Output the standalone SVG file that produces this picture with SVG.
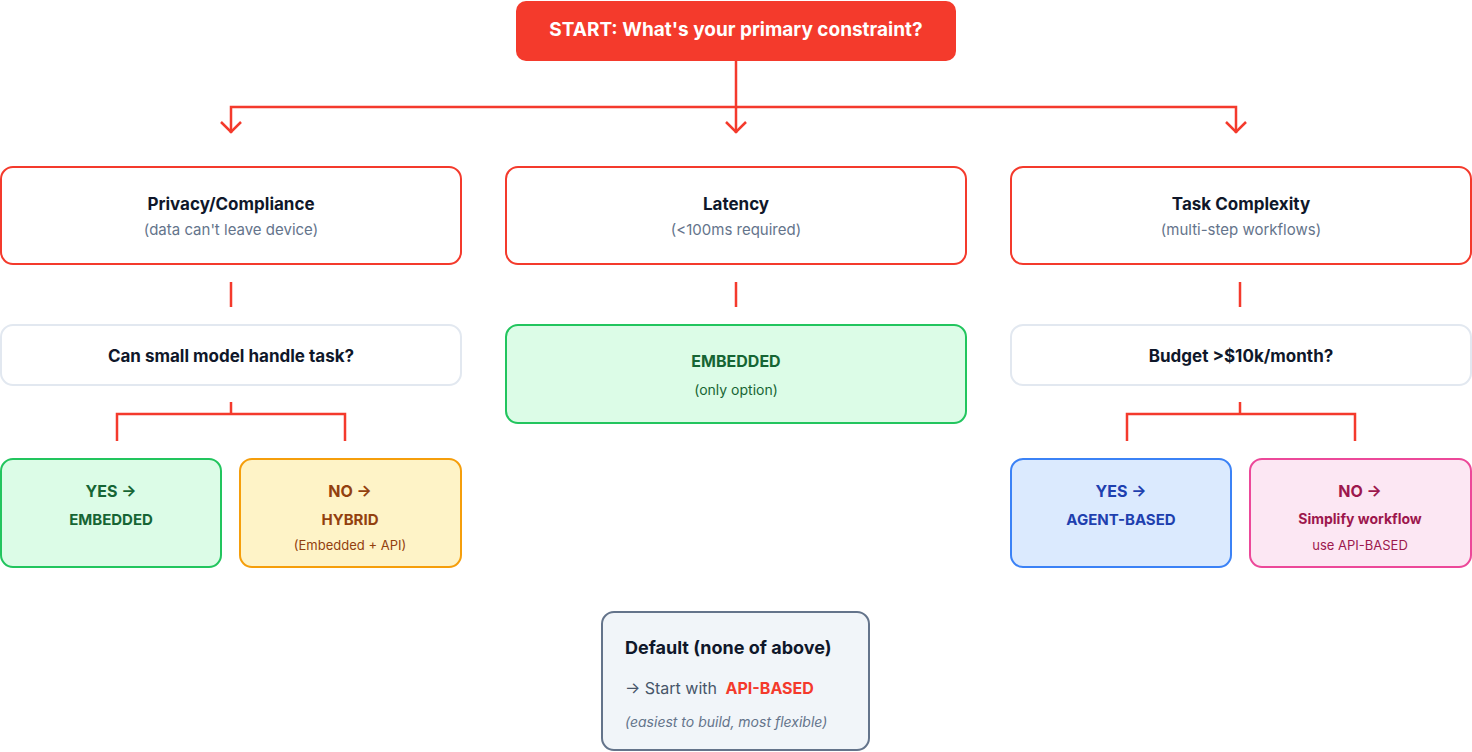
<svg xmlns="http://www.w3.org/2000/svg" width="1472" height="752" viewBox="0 0 1472 752">
<style>
text{font-family:Inter,"Liberation Sans",sans-serif;text-anchor:middle}
.c{fill:none;stroke:#f43a2c;stroke-width:2.5}
.r{fill:#fff;stroke:#f43a2c;stroke-width:2}
.g{fill:#fff;stroke:#e2e8f0;stroke-width:2}
.t{font-size:17px;font-weight:700;fill:#0f172a}
.s{font-size:15px;fill:#64748b}
</style>
<rect width="1472" height="752" fill="#fff"/>
<g id="start"><rect x="516" y="1" width="440" height="60" rx="10" fill="#f43a2c"/><text x="736" y="36" font-size="19" font-weight="700" fill="#fff">START: What's your primary constraint?</text></g>
<g id="connectors">
<path class="c" d="M736 61V133M231 133V107H1236V133"/>
<path class="c" d="M221 122L231 132L241 122M726 122L736 132L746 122M1226 122L1236 132L1246 122"/>
<path class="c" d="M231 282V307M736 282V307M1240 282V307"/>
<path class="c" d="M231 402V414M117 441V414H345V441M1240 402V414M1127 441V414H1355V441"/>
</g>
<g id="privacy"><rect class="r" x="1" y="167" width="460" height="97" rx="12"/><text class="t" x="231" y="210">Privacy/Compliance</text><text class="s" x="231" y="235">(data can't leave device)</text></g>
<g id="latency"><rect class="r" x="506" y="167" width="460" height="97" rx="12"/><text class="t" x="736" y="210">Latency</text><text class="s" x="736" y="235">(&lt;100ms required)</text></g>
<g id="complexity"><rect class="r" x="1011" y="167" width="460" height="97" rx="12"/><text class="t" x="1241" y="210">Task Complexity</text><text class="s" x="1241" y="235">(multi-step workflows)</text></g>
<g id="small"><rect class="g" x="1" y="325" width="460" height="60" rx="12"/><text class="t" x="231" y="362" font-size="16">Can small model handle task?</text></g>
<g id="embedded"><rect x="506" y="325" width="460" height="98" rx="12" fill="#dcfce7" stroke="#22c55e" stroke-width="2"/><text x="736" y="367" font-size="16" font-weight="700" fill="#166534">EMBEDDED</text><text x="736" y="395" font-size="14" fill="#166534">(only option)</text></g>
<g id="budget"><rect class="g" x="1011" y="325" width="460" height="60" rx="12"/><text class="t" x="1241" y="362" font-size="16">Budget &gt;$10k/month?</text></g>
<g id="yes1"><rect x="1" y="459" width="220" height="108" rx="12" fill="#dcfce7" stroke="#22c55e" stroke-width="2"/><text x="111" y="497" font-size="16" font-weight="700" fill="#166534">YES →</text><text x="111" y="525" font-size="15" font-weight="700" fill="#166534">EMBEDDED</text></g>
<g id="no1"><rect x="240" y="459" width="221" height="108" rx="12" fill="#fef3c7" stroke="#f59e0b" stroke-width="2"/><text x="350" y="497" font-size="16" font-weight="700" fill="#92400e">NO →</text><text x="350" y="525" font-size="15" font-weight="700" fill="#92400e">HYBRID</text><text x="350" y="550" font-size="13" fill="#92400e">(Embedded + API)</text></g>
<g id="yes2"><rect x="1011" y="459" width="220" height="108" rx="12" fill="#dbeafe" stroke="#3b82f6" stroke-width="2"/><text x="1121" y="497" font-size="16" font-weight="700" fill="#1e40af">YES →</text><text x="1121" y="525" font-size="15" font-weight="700" fill="#1e40af">AGENT-BASED</text></g>
<g id="no2"><rect x="1250" y="459" width="221" height="108" rx="12" fill="#fce7f3" stroke="#ec4899" stroke-width="2"/><text x="1360" y="497" font-size="16" font-weight="700" fill="#9d174d">NO →</text><text x="1360" y="524" font-size="14" font-weight="700" fill="#9d174d">Simplify workflow</text><text x="1360" y="550" font-size="13" fill="#9d174d">use API-BASED</text></g>
<g id="default"><rect x="602" y="612" width="267" height="138" rx="12" fill="#f1f5f9" stroke="#64748b" stroke-width="2"/><text x="625" y="654" font-size="18" font-weight="700" fill="#0f172a" style="text-anchor:start">Default (none of above)</text><text x="625" y="694" font-size="16" fill="#475569" style="text-anchor:start">→ Start with <tspan font-weight="700" fill="#f43a2c" dx="4">API-BASED</tspan></text><text x="625" y="727" font-size="14" font-style="italic" fill="#64748b" style="text-anchor:start">(easiest to build, most flexible)</text></g>
</svg>
